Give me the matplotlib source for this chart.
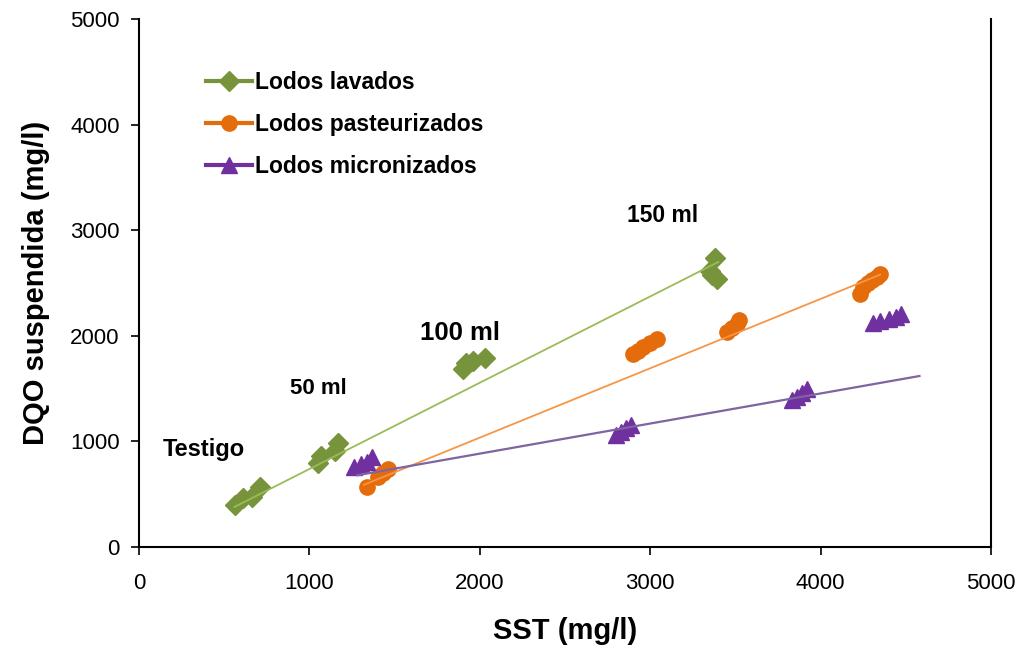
import numpy as np
import matplotlib
matplotlib.use('Agg')
import matplotlib.pyplot as plt

plt.rcParams['font.family'] = ['Liberation Sans', 'DejaVu Sans']

# SST (mg/l) vs DQO suspendida (mg/l) for each sludge type
lavados_sst = [565, 610, 663, 710, 1050, 1070, 1150, 1170, 1900, 1920, 1960, 2030, 3380, 3350, 3360, 3390]
lavados_dqo = [400, 465, 475, 565, 795, 860, 910, 990, 1690, 1740, 1760, 1790, 2740, 2610, 2580, 2540]

past_sst = [1340, 1400, 1430, 1460, 2900, 2930, 2960, 3000, 3040, 3450, 3480, 3510, 3520,
            4230, 4250, 4280, 4300, 4330, 4350]
past_dqo = [570, 660, 700, 740, 1830, 1860, 1890, 1930, 1970, 2040, 2070, 2110, 2150,
            2400, 2460, 2500, 2530, 2560, 2590]

micro_sst = [1260, 1300, 1340, 1370, 2800, 2830, 2860, 2890, 3830, 3860, 3890, 3920,
             4310, 4350, 4400, 4440, 4470]
micro_dqo = [760, 790, 810, 850, 1060, 1090, 1130, 1160, 1390, 1420, 1460, 1500,
             2120, 2140, 2160, 2180, 2210]

# trend lines (start, end)
lavados_trend_x = [560, 3400]
lavados_trend_y = [380, 2700]
past_trend_x = [1320, 4350]
past_trend_y = [590, 2580]
micro_trend_x = [1280, 4580]
micro_trend_y = [680, 1620]

# dose labels
dose_labels = ['Testigo', '50 ml', '100 ml', '150 ml']
dose_x = [381, 1050, 1884, 3075]
dose_y = [928, 1506, 2027, 3144]
dose_size = [17, 16, 18.5, 16.5]

green = '#77933C'
green_l = '#9BBB59'
orange = '#E46C0A'
orange_l = '#F79646'
purple = '#7030A0'
purple_l = '#8064A2'

fig = plt.figure(figsize=(10.22, 6.49), dpi=100)
ax = fig.add_axes([0.136, 0.157, 0.8337, 0.8137])

ax.plot(lavados_trend_x, lavados_trend_y, color=green_l, lw=1.3, zorder=3)
ax.plot(past_trend_x, past_trend_y, color=orange_l, lw=1.3, zorder=3)
ax.plot(micro_trend_x, micro_trend_y, color=purple_l, lw=1.6, zorder=3)

ax.plot(lavados_sst, lavados_dqo, ls='none', marker='D', ms=10, color=green, zorder=2)
ax.plot(past_sst, past_dqo, ls='none', marker='o', ms=11, color=orange, zorder=2)
ax.plot(micro_sst, micro_dqo, ls='none', marker='^', ms=12, color=purple, zorder=2)

# legend handles: line + marker
h1, = ax.plot([], [], color=green, marker='D', ms=10, lw=3)
h2, = ax.plot([], [], color=orange, marker='o', ms=11, lw=3)
h3, = ax.plot([], [], color=purple, marker='^', ms=12, lw=3)
leg = ax.legend([h1, h2, h3], ['Lodos lavados', 'Lodos pasteurizados', 'Lodos micronizados'],
                loc='upper left', bbox_to_anchor=(0.055, 0.94), frameon=False,
                prop={'weight': 'bold', 'size': 16.5}, labelspacing=0.82,
                handlelength=2.0, handletextpad=0.1)

for lab, x, y, s in zip(dose_labels, dose_x, dose_y, dose_size):
    ax.text(x, y, lab, ha='center', va='center', fontsize=s, fontweight='bold')

ax.set_xlim(0, 5000)
ax.set_ylim(0, 5000)
ax.set_xticks(np.arange(0, 5001, 1000))
ax.set_yticks(np.arange(0, 5001, 1000))
ax.tick_params(axis='x', direction='out', length=6, width=1.2, labelsize=16, pad=13)
ax.tick_params(axis='y', direction='out', length=6, width=1.2, labelsize=16, pad=8)
ax.spines['top'].set_visible(False)
for s in ['left', 'bottom', 'right']:
    ax.spines[s].set_linewidth(1.5)

ax.set_xlabel('SST (mg/l)', fontsize=21, fontweight='bold', labelpad=16)
ax.set_ylabel('DQO suspendida (mg/l)', fontsize=21, fontweight='bold', labelpad=14)

fig.savefig('out.png', dpi=100)
